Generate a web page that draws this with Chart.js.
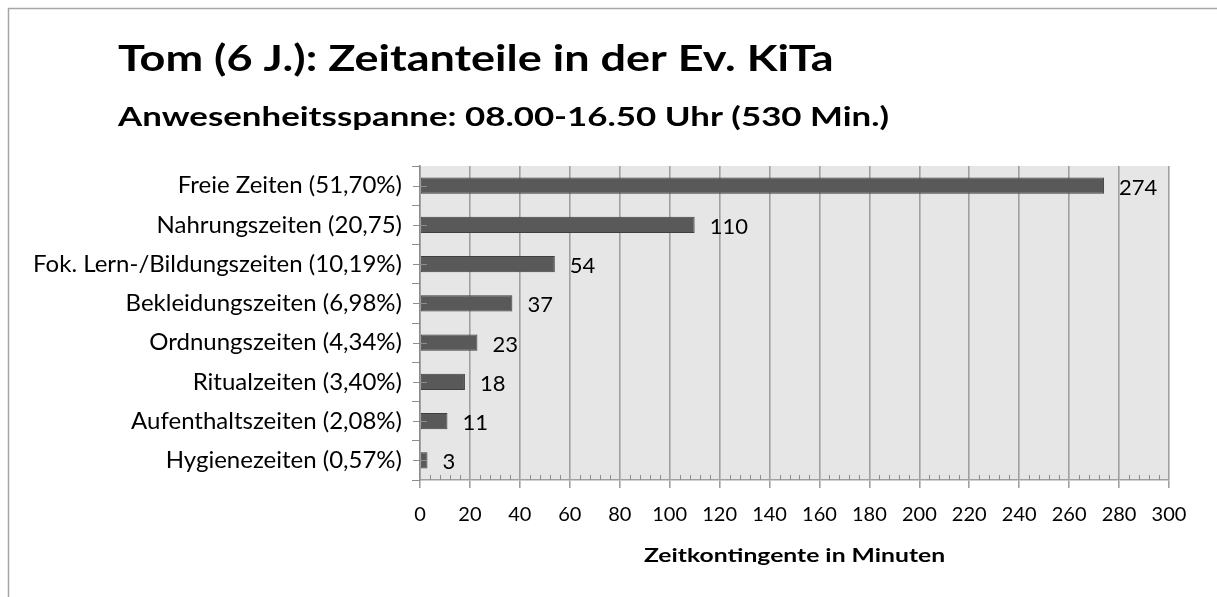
<!DOCTYPE html>
<html lang="de">
<head>
    <meta charset="UTF-8">
    <title>Tom (6 J.): Zeitanteile in der Ev. KiTa</title>
    <script src="https://cdn.jsdelivr.net/npm/chart.js"></script>
    <style>
        body {
            margin: 0;
            background-color: #fff;
            overflow: hidden;
        }
        canvas {
            display: block;
        }
    </style>
</head>
<body>
    <canvas id="zeitChart" width="1217" height="597"></canvas>
    <script>
        const chartTitle = 'Tom (6 J.): Zeitanteile in der Ev. KiTa';
        const chartSubtitle = 'Anwesenheitsspanne: 08.00-16.50 Uhr (530 Min.)';
        const axisTitle = 'Zeitkontingente in Minuten';

        const categories = [
            'Freie Zeiten (51,70%)',
            'Nahrungszeiten (20,75)',
            'Fok. Lern-/Bildungszeiten (10,19%)',
            'Bekleidungszeiten (6,98%)',
            'Ordnungszeiten (4,34%)',
            'Ritualzeiten (3,40%)',
            'Aufenthaltszeiten (2,08%)',
            'Hygienezeiten (0,57%)'
        ];
        const minutes = [274, 110, 54, 37, 23, 18, 11, 3];

        const xMin = 0;
        const xMax = 300;
        const xStep = 20;
        const minorStep = 4;

        Chart.defaults.font.family = 'Lato';
        Chart.defaults.color = '#000';

        // the original text is set wide, so stretch the text we draw ourselves
        function wideText(ctx, text, x, y, stretch) {
            ctx.save();
            ctx.translate(x, y);
            ctx.scale(stretch, 1);
            ctx.fillText(text, 0, 0);
            ctx.restore();
        }

        const excelLook = {
            id: 'excelLook',
            beforeDraw(chart) {
                const { ctx, chartArea: a } = chart;
                ctx.save();
                ctx.fillStyle = '#fff';
                ctx.fillRect(0, 0, chart.width, chart.height);

                // chart frame: only the top and left edges are inside the picture
                ctx.strokeStyle = '#a6a6a6';
                ctx.lineWidth = 1.5;
                ctx.beginPath();
                ctx.moveTo(8.5, chart.height);
                ctx.lineTo(8.5, 8.5);
                ctx.lineTo(chart.width, 8.5);
                ctx.stroke();

                ctx.fillStyle = '#e6e6e6';
                ctx.fillRect(a.left, a.top, a.right - a.left, a.bottom - a.top);

                ctx.fillStyle = '#000';
                ctx.textAlign = 'left';
                ctx.textBaseline = 'alphabetic';
                ctx.font = 'bold 36px Lato';
                wideText(ctx, chartTitle, 118, 71, 1.25);
                ctx.font = 'bold 26px Lato';
                wideText(ctx, chartSubtitle, 118, 126, 1.34);

                ctx.font = 'bold 19px Lato';
                ctx.textAlign = 'center';
                ctx.textBaseline = 'middle';
                wideText(ctx, axisTitle, (a.left + a.right) / 2, 556, 1.3);
                ctx.restore();
            },
            afterDatasetsDraw(chart) {
                const { ctx, chartArea: a, scales } = chart;
                ctx.save();
                ctx.strokeStyle = '#8c8c8c';
                ctx.lineWidth = 1;

                // minor ticks on the value axis
                for (let v = xMin; v <= xMax; v += minorStep) {
                    if (v % xStep === 0) continue;
                    const px = Math.round(scales.x.getPixelForValue(v)) + 0.5;
                    ctx.beginPath();
                    ctx.moveTo(px, a.bottom);
                    ctx.lineTo(px, a.bottom - 5);
                    ctx.stroke();
                }

                // small marks at the category centres
                categories.forEach((c, i) => {
                    const py = Math.round(scales.y.getPixelForValue(i)) + 0.5;
                    ctx.beginPath();
                    ctx.moveTo(a.left - 7, py);
                    ctx.lineTo(a.left + 7, py);
                    ctx.stroke();
                });

                // value labels
                const meta = chart.getDatasetMeta(0);
                ctx.fillStyle = '#000';
                ctx.font = '22px Lato';
                ctx.textAlign = 'left';
                ctx.textBaseline = 'middle';
                meta.data.forEach((bar, i) => {
                    ctx.fillText(String(minutes[i]), bar.x + 15, bar.y + 2);
                });
                ctx.restore();
            }
        };

        new Chart(document.getElementById('zeitChart'), {
            type: 'bar',
            data: {
                labels: categories,
                datasets: [{
                    data: minutes,
                    backgroundColor: '#595959',
                    borderColor: '#3f3f3f',
                    borderWidth: 1,
                    borderSkipped: false,
                    categoryPercentage: 1,
                    barPercentage: 0.41
                }]
            },
            options: {
                indexAxis: 'y',
                responsive: false,
                animation: false,
                layout: {
                    padding: { top: 166, right: 48, left: 0, bottom: 0 }
                },
                plugins: {
                    legend: { display: false },
                    tooltip: { enabled: false }
                },
                scales: {
                    x: {
                        min: xMin,
                        max: xMax,
                        ticks: {
                            stepSize: xStep,
                            font: { size: 20 },
                            padding: 15,
                            maxRotation: 0,
                            autoSkip: false
                        },
                        grid: { color: '#a0a0a0', lineWidth: 1.6, tickLength: 8 },
                        border: { color: '#a0a0a0', width: 1.6 },
                        afterFit(scale) { scale.height = 117; }
                    },
                    y: {
                        grid: { drawOnChartArea: false, tickLength: 8, color: '#8c8c8c', offset: true },
                        border: { color: '#8c8c8c', width: 1.5 },
                        ticks: { font: { size: 24 }, padding: 10, autoSkip: false },
                        afterFit(scale) { scale.width = 420; }
                    }
                }
            },
            plugins: [excelLook]
        });
    </script>
</body>
</html>
